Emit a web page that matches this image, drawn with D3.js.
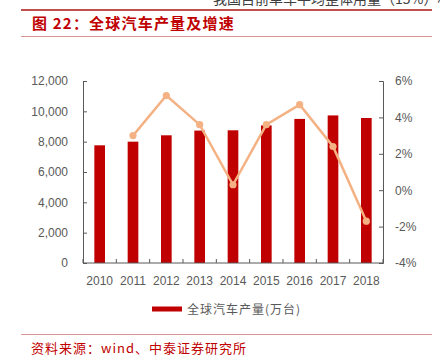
<!DOCTYPE html>
<html>
<head>
<meta charset="utf-8">
<script src="https://cdn.jsdelivr.net/npm/d3@7"></script>
<style>
  body { margin: 0; background: #fff; }
  svg { display: block; }
</style>
</head>
<body>
<div id="chart"></div>
<script>
// data
var years = ["2010", "2011", "2012", "2013", "2014", "2015", "2016", "2017", "2018"]
var production = [7760, 8000, 8420, 8730, 8750, 9070, 9500, 9730, 9560]   // 万台
var growth = [null, 3.0, 5.2, 3.6, 0.3, 3.6, 4.7, 2.4, -1.7]               // %
var leftTicks = [0, 2000, 4000, 6000, 8000, 10000, 12000]
var rightTicks = [-4, -2, 0, 2, 4, 6]

var W = 440, H = 361
var fontCJK = "'Noto Sans CJK SC', 'Noto Sans', sans-serif"
var fontNum = "'Liberation Sans', Arial, sans-serif"
var grey = "#595959"

var svg = d3.select("#chart").append("svg")
  .attr("width", W).attr("height", H)

// clipped line of text from the page above
svg.append("text")
  .attr("x", 213).attr("y", 4)
  .style("font-family", fontCJK).style("font-size", "14px")
  .style("fill", "#404040")
  .text("我国目前单车平均整体用量（15%）相")

// header rules and title
svg.append("line").attr("x1", 21).attr("x2", 432).attr("y1", 10).attr("y2", 10)
  .attr("stroke", "#C0504D").attr("stroke-width", 2)
svg.append("line").attr("x1", 21).attr("x2", 432).attr("y1", 36.5).attr("y2", 36.5)
  .attr("stroke", "#D99594").attr("stroke-width", 1)
svg.append("text")
  .attr("x", 32).attr("y", 29)
  .style("font-family", fontCJK).style("font-size", "15px").style("font-weight", "bold")
  .style("letter-spacing", "1.2px")
  .style("fill", "#C00000")
  .text("图 22：全球汽车产量及增速")

// plot area
var plotL = 83, plotR = 383, plotT = 81, plotB = 263

var x = d3.scaleBand().domain(years).range([plotL, plotR])
var yL = d3.scaleLinear().domain([0, 12000]).range([plotB, plotT])
var yR = d3.scaleLinear().domain([-4, 6]).range([plotB, plotT])

// bars
var barW = x.bandwidth() * 0.32
svg.append("g").selectAll("rect")
  .data(production)
  .enter().append("rect")
  .attr("x", function (d, i) { return x(years[i]) + x.bandwidth() / 2 - barW / 2 })
  .attr("y", function (d) { return yL(d) })
  .attr("width", barW)
  .attr("height", function (d) { return plotB - yL(d) })
  .attr("fill", "#C00000")

// growth line
var pts = growth.map(function (g, i) { return { year: years[i], g: g } })
  .filter(function (d) { return d.g !== null })
var line = d3.line()
  .x(function (d) { return x(d.year) + x.bandwidth() / 2 })
  .y(function (d) { return yR(d.g) })
svg.append("path")
  .datum(pts)
  .attr("d", line)
  .attr("fill", "none")
  .attr("stroke", "#F4B183")
  .attr("stroke-width", 2.5)
svg.append("g").selectAll("circle")
  .data(pts)
  .enter().append("circle")
  .attr("cx", function (d) { return x(d.year) + x.bandwidth() / 2 })
  .attr("cy", function (d) { return yR(d.g) })
  .attr("r", 3.6)
  .attr("fill", "#F4B183")

// axes
function styleAxis(g) {
  g.selectAll("path, line").attr("stroke", grey)
  g.selectAll("text").style("font-family", fontNum).style("font-size", "12px").style("fill", grey)
}

svg.append("g")
  .attr("transform", "translate(" + plotL + ",0)")
  .call(d3.axisLeft(yL).tickValues(leftTicks).tickFormat(d3.format(",")).tickSizeInner(-4).tickSizeOuter(-4).tickPadding(15))
  .call(styleAxis)

svg.append("g")
  .attr("transform", "translate(" + plotR + ",0)")
  .call(d3.axisRight(yR).tickValues(rightTicks).tickFormat(function (d) { return d + "%" }).tickSizeInner(-4).tickSizeOuter(-4).tickPadding(12))
  .call(styleAxis)

// x axis: ticks at category boundaries
var xAxis = svg.append("g")
  .attr("transform", "translate(0," + plotB + ")")
xAxis.append("line").attr("x1", plotL).attr("x2", plotR).attr("stroke", grey)
xAxis.selectAll(".bt")
  .data(years.concat(["end"]))
  .enter().append("line")
  .attr("x1", function (d, i) { return plotL + i * x.step() })
  .attr("x2", function (d, i) { return plotL + i * x.step() })
  .attr("y1", 0).attr("y2", -4)
  .attr("stroke", grey)
xAxis.selectAll("text")
  .data(years)
  .enter().append("text")
  .attr("x", function (d) { return x(d) + x.bandwidth() / 2 })
  .attr("y", 22)
  .attr("text-anchor", "middle")
  .style("font-family", fontNum).style("font-size", "12px").style("fill", grey)
  .text(function (d) { return d })

// legend
svg.append("rect").attr("x", 152).attr("y", 306.5).attr("width", 30).attr("height", 5)
  .attr("fill", "#C00000")
svg.append("text")
  .attr("x", 187).attr("y", 313.5)
  .style("font-family", fontCJK).style("font-size", "12px").style("letter-spacing", "1px")
  .style("fill", grey)
  .text("全球汽车产量(万台)")

// source
svg.append("line").attr("x1", 21).attr("x2", 432).attr("y1", 334.5).attr("y2", 334.5)
  .attr("stroke", "#D99594").attr("stroke-width", 1)
svg.append("text")
  .attr("x", 31).attr("y", 353)
  .style("font-family", fontCJK).style("font-size", "13px").style("letter-spacing", "1px")
  .style("fill", "#C00000")
  .text("资料来源：wind、中泰证券研究所")
</script>
</body>
</html>
